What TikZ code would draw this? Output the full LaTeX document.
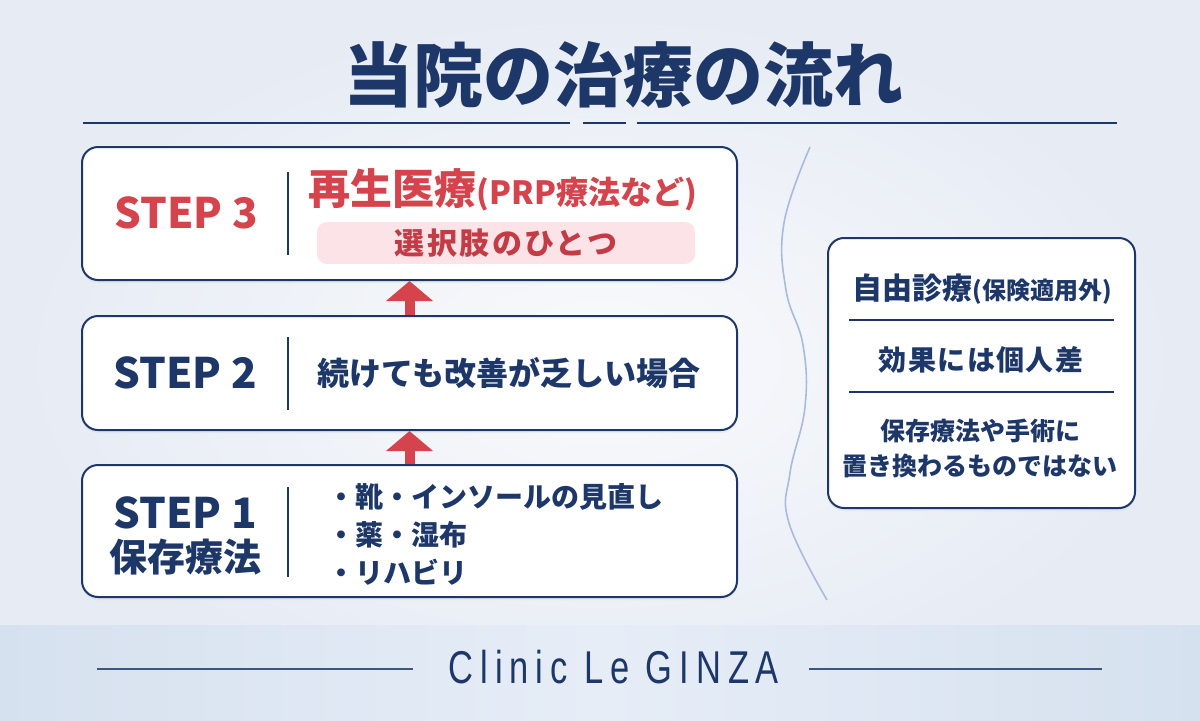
\documentclass[tikz,border=0pt]{standalone}
\usepackage{fontspec}
\setmainfont{Noto Sans CJK JP}
\newfontfamily\logofont[FakeStretch=0.75,LetterSpace=15]{Liberation Sans}
\usetikzlibrary{arrows.meta,positioning,shadows,calc}

\definecolor{navy}{HTML}{1D3768}
\definecolor{stepred}{HTML}{D5434D}
\definecolor{pinkfill}{HTML}{FBE3E7}
\definecolor{pinktext}{HTML}{C23B45}
\definecolor{wavecol}{HTML}{A9BBDC}
\definecolor{bgin}{HTML}{F9FAFC}
\definecolor{bgout}{HTML}{E6EBF4}
\definecolor{footmid}{HTML}{E6EDF7}
\definecolor{footedge}{HTML}{D6E1EF}

\begin{document}
\begin{tikzpicture}[x=0.5pt, y=-0.5pt,
    stepbox/.style={rectangle, rounded corners=8pt, draw=navy, line width=1pt, fill=white,
        minimum width=327.5pt, drop shadow={opacity=0.08, shadow xshift=0pt, shadow yshift=-1.5pt}},
    notebox/.style={stepbox, minimum width=153.5pt, minimum height=135pt},
    steplabel/.style={font=\bfseries\fontsize{21}{24}\selectfont, text=navy},
    bodytext/.style={font=\bfseries\fontsize{16}{19}\selectfont, text=navy},
    bullettext/.style={font=\bfseries\fontsize{14}{17}\selectfont, text=navy, anchor=west},
    notetext/.style={font=\bfseries\fontsize{14}{17}\selectfont, text=navy},
    pinkbox/.style={rectangle, rounded corners=5pt, fill=pinkfill, minimum width=189pt, minimum height=20.5pt,
        font=\bfseries\fontsize{15}{18}\selectfont\addfontfeature{LetterSpace=8}, text=pinktext},
    divline/.style={navy, line width=0.6pt},
    noterule/.style={navy, line width=0.6pt},
    titlerule/.style={navy, line width=1.3pt},
    footrule/.style={navy!85, line width=1pt},
    uparrow/.style={-{Triangle[width=23pt,length=10pt]}, line width=5pt, draw=stepred}
]

% Background and footer band
\shade[inner color=bgin, outer color=bgout] (0,0) rectangle (1200,720);
\shade[left color=footedge, right color=footedge, middle color=footmid] (0,625) rectangle (1200,720);
\useasboundingbox (0,0) rectangle (1200,720);

% Title
\node[font=\bfseries\fontsize{35}{40}\selectfont, text=navy] (title) at (623,75) {当院の治療の流れ};
\draw[titlerule] (83,123) -- (570,123);
\draw[titlerule] (583,123) -- (626,123);
\draw[titlerule] (637,123) -- (1117,123);

% Step boxes
\node[stepbox, minimum height=66.5pt] (step3) at (409.5,213.5) {};
\node[stepbox, minimum height=57pt] (step2) at (409.5,373) {};
\node[stepbox, minimum height=66pt] (step1) at (409.5,531) {};

% Step 3
\node[steplabel, text=stepred] (s3lab) at (186,213) {STEP 3};
\draw[divline] (288,172) -- (288,255);
\node[font=\bfseries\fontsize{21}{24}\selectfont, text=stepred] (s3main) at (503,190)
    {再生医療{\fontsize{16}{18}\selectfont(PRP療法など)}};
\node[pinkbox] (s3sub) at (506,243) {選択肢のひとつ};

% Step 2
\node[steplabel] (s2lab) at (185,373) {STEP 2};
\draw[divline] (288,337) -- (288,410);
\node[bodytext] (s2text) at (509,373) {続けても改善が乏しい場合};

% Step 1
\node[steplabel] (s1lab) at (185,513) {STEP 1};
\node[font=\bfseries\fontsize{19}{22}\selectfont, text=navy] (s1name) at (185,557) {保存療法};
\draw[divline] (288,487) -- (288,577);
\node[bullettext] (b1) at (320,497) {・靴・インソールの見直し};
\node[bullettext] (b2) at (320,535) {・薬・湿布};
\node[bullettext] (b3) at (320,572) {・リハビリ};

% Arrows between steps
\draw[uparrow] (step1.north) -- (step2.south);
\draw[uparrow] (step2.north) -- (step3.south);

% Divider wave
\draw[wavecol, line width=0.8pt] plot[smooth, tension=0.7] coordinates
    {(810,147) (784,223) (786,290) (803,345) (805,407) (790,473) (789,523) (827,600)};

% Note box
\node[notebox] (note) at (981.5,373) {};
\node[notetext, font=\bfseries\fontsize{15}{18}\selectfont] (n1) at (982,289)
    {自由診療{\fontsize{12}{14}\selectfont(保険適用外)}};
\draw[noterule] (849,320) -- (1114,320);
\node[notetext, font=\bfseries\fontsize{14}{17}\selectfont\addfontfeature{LetterSpace=5}] (n2) at (981,360) {効果には個人差};
\draw[noterule] (849,392) -- (1114,392);
\node[notetext, font=\bfseries\fontsize{12.5}{17.5}\selectfont, align=center] (n3) at (980,448)
    {保存療法や手術に\\置き換わるものではない};

% Footer
\node[font=\logofont\fontsize{23}{26}\selectfont, text=navy] (logo) at (614,667) {Clinic Le GINZA};
\draw[footrule] (97,669) -- (413,669);
\draw[footrule] (809,669) -- (1102,669);

\end{tikzpicture}
\end{document}
